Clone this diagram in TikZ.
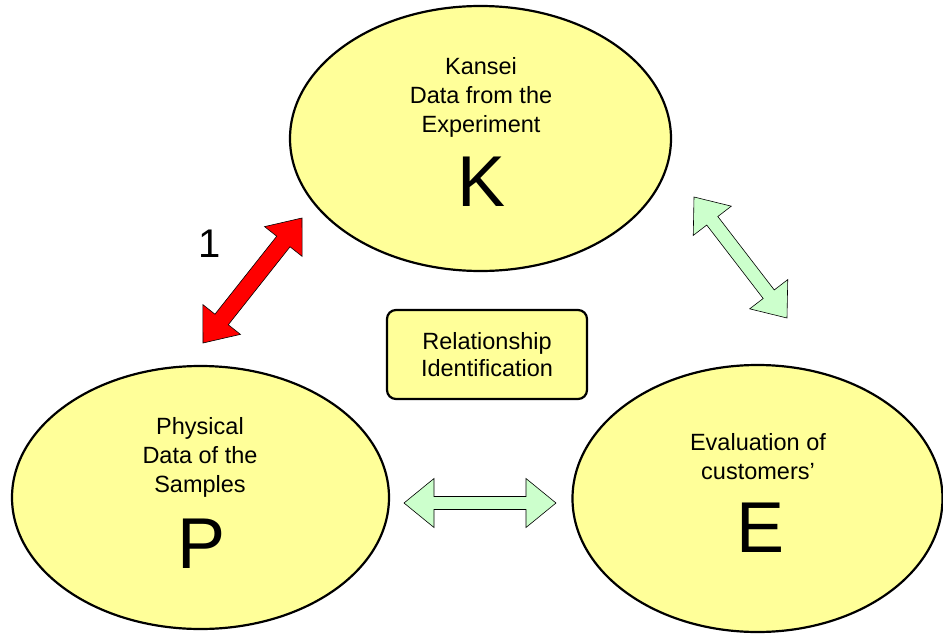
\documentclass[tikz,border=0pt]{standalone}
\usepackage{fontspec}
\setmainfont{Liberation Sans}
\usetikzlibrary{shapes.geometric,calc}

\definecolor{paleyellow}{RGB}{255,255,153}
\definecolor{palegreen}{RGB}{204,255,204}

% Double-headed block arrow between two named coordinates.
% #1 style, #2 start, #3 end, #4 shaft half-width, #5 head half-width
\newcommand\blockarrow[5]{%
  \path[#1] let \p1=($(#3)-(#2)$), \n1={atan2(\y1,\x1)} in
    (#2)
    -- ($(#2)+(\n1:30pt)+(\n1+90:#5)$)
    -- ($(#2)+(\n1:30pt)+(\n1+90:#4)$)
    -- ($(#3)+(\n1+180:30pt)+(\n1+90:#4)$)
    -- ($(#3)+(\n1+180:30pt)+(\n1+90:#5)$)
    -- (#3)
    -- ($(#3)+(\n1+180:30pt)+(\n1-90:#5)$)
    -- ($(#3)+(\n1+180:30pt)+(\n1-90:#4)$)
    -- ($(#2)+(\n1:30pt)+(\n1-90:#4)$)
    -- ($(#2)+(\n1:30pt)+(\n1-90:#5)$)
    -- cycle;
}

\begin{document}
\begin{tikzpicture}[x=1pt,y=-1pt,
  blob/.style={ellipse, draw=black, line width=2.2pt, fill=paleyellow, inner sep=0pt},
  caption/.style={align=center, font=\fontsize{23.5}{29}\selectfont},
  bigletter/.style={inner sep=0pt, font=\fontsize{72}{72}\selectfont},
  relbox/.style={draw=black, line width=2.2pt, rounded corners=9pt, fill=paleyellow,
    minimum width=200pt, minimum height=89pt, align=center, inner sep=0pt,
    font=\fontsize{23.5}{27}\selectfont},
  redarrow/.style={fill=red, draw=black, line width=0.6pt, line join=miter},
  greenarrow/.style={fill=palegreen, draw=black, line width=0.6pt, line join=miter}
]
\useasboundingbox (0,0) rectangle (943,634);

% the three data sets
\node[blob, minimum width=381pt, minimum height=265pt] (K) at (480.5,138.5) {};
\node[blob, minimum width=377pt, minimum height=263pt] (P) at (200.5,497.5) {};
\node[blob, minimum width=370pt, minimum height=267pt] (E) at (757.5,498.5) {};

\node[caption] (Ktext) at (481,97) {Kansei\\Data from the\\Experiment};
\node[bigletter] (Kletter) at (482,182) {K};

\node[caption] (Ptext) at (200,457) {Physical\\Data of the\\Samples};
\node[bigletter] (Pletter) at (202,544) {P};

\node[caption] (Etext) at (758,457) {Evaluation of\\customers'};
\node[bigletter] (Eletter) at (761,528) {E};

% central box
\node[relbox] (R) at (487,354.5) {Relationship\\Identification};

% arrow end points
\coordinate (rp) at (203,343);
\coordinate (rk) at (302,218);
\coordinate (gk) at (694,197);
\coordinate (ge) at (787,318);
\coordinate (hp) at (404,503);
\coordinate (he) at (556,503);

\blockarrow{redarrow}{rp}{rk}{8.5pt}{24pt}
\blockarrow{greenarrow}{gk}{ge}{7pt}{24pt}
\blockarrow{greenarrow}{hp}{he}{6.5pt}{24.5pt}

\node[inner sep=0pt, font=\fontsize{40}{40}\selectfont] (one) at (210,244) {1};
\end{tikzpicture}
\end{document}
